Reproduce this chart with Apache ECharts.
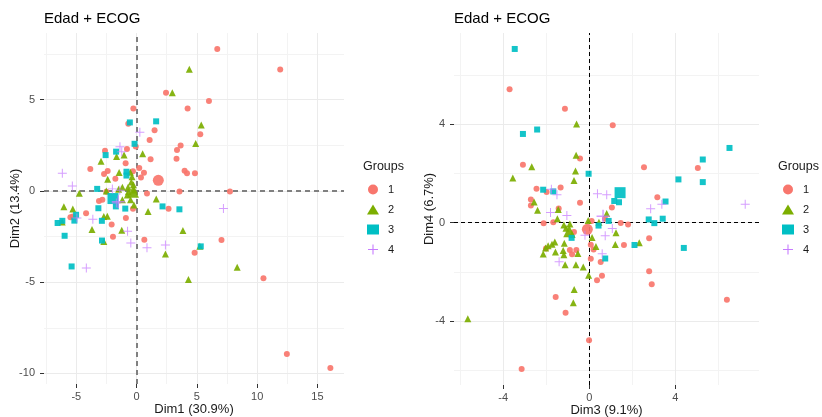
<!DOCTYPE html>
<html style="height: 100%">
<head>
    <meta charset="utf-8">
</head>
<body style="height: 100%; margin: 0; background: #fff">
<div id="container" style="width: 822px; height: 417px;"></div>
<script src="https://cdn.jsdelivr.net/npm/echarts@6/dist/echarts.min.js"></script>
<script>
var groups = ['1', '2', '3', '4'];
var colors = ['#F8766D', '#7CAE00', '#00BFC4', '#C77CFF'];
var plusPath = 'path://M4.45,0H5.55V10H4.45Z M0,4.45H10V5.55H0Z';
var symbols = ['circle', 'triangle', 'rect', plusPath];
var sizes = [6, 7, 6, 9];
var bigSizes = [11, 12, 11, 13];

// Dim1 vs Dim2
var d12_g1 = [[2.44,5.37],[6.00,4.93],[-0.27,4.52],[4.23,4.52],[-0.69,3.68],[1.49,3.32],[5.28,3.10],[1.08,2.79],[3.65,2.48],[-0.07,2.43],[-0.80,2.29],[-2.62,2.20],[3.35,2.24],[3.31,1.76],[-0.91,1.51],[1.16,1.73],[-3.84,1.20],[-2.40,1.09],[-2.70,0.93],[-0.30,1.08],[0.61,1.00],[3.98,1.11],[4.18,0.97],[4.84,0.97],[0.36,0.73],[0.22,1.26],[-1.76,0.66],[0.86,-0.15],[3.56,-0.04],[-3.12,-0.55],[-2.84,-0.49],[-2.51,-0.05],[2.65,-0.98],[-0.30,-0.98],[6.69,7.78],[11.91,6.65],[7.74,-0.04],[7.04,-2.69],[10.52,-4.79],[12.46,-8.94],[16.07,-9.71],[-5.49,-1.44],[-5.29,-1.40],[-4.19,-1.22],[-2.07,-1.84],[-0.89,-1.48],[-1.96,-2.51],[0.64,-2.68],[4.81,-3.39]];
var d12_g2 = [[4.37,6.67],[2.96,5.37],[5.36,3.61],[4.90,2.60],[0.50,2.04],[-2.95,1.62],[-1.04,1.97],[-1.66,1.89],[-1.45,1.01],[-2.40,0.64],[-0.52,1.02],[-0.38,0.78],[-1.18,0.20],[-0.71,0.20],[-1.49,0.09],[-2.51,0.00],[-4.75,-0.13],[-0.77,-0.22],[-1.18,-0.49],[-0.50,-0.49],[-0.22,-0.77],[-6.03,-0.87],[-5.29,-0.99],[-6.17,-1.71],[-2.72,-1.41],[-2.43,-1.39],[0.95,-1.13],[-3.70,-2.11],[-1.23,-2.16],[-2.72,-2.77],[1.63,-0.45],[3.84,-2.17],[5.24,-3.04],[2.39,-3.46],[8.34,-4.18],[4.30,-4.86],[-0.27,0.33],[-0.44,0.49],[-0.19,0.05],[-0.69,-0.05]];
var d12_g3 = [[-0.56,3.75],[1.62,3.81],[-0.17,2.58],[-1.70,2.15],[-2.57,1.96],[-0.84,1.05],[-0.84,0.84],[-3.27,0.11],[-3.17,-0.95],[-1.72,-0.85],[-0.94,-0.97],[2.15,-0.85],[3.55,-1.01],[-6.16,-1.64],[-6.55,-1.76],[-5.02,-1.31],[-5.16,-1.63],[-2.88,-1.64],[-5.97,-2.46],[-2.87,-2.72],[-5.39,-4.14],[5.32,-3.04]];
var d12_g4 = [[0.27,3.21],[-1.38,2.42],[-1.23,2.15],[-6.16,0.97],[-5.33,0.27],[-2.01,0.11],[-1.39,0.03],[-4.95,-1.48],[-3.63,-1.55],[-0.75,-2.21],[-0.48,-2.86],[0.86,-3.11],[2.39,-2.96],[-4.17,-4.22],[7.20,-0.97],[-1.68,-0.66]];
var d12_centers = [[1.80,0.58],[-0.30,-0.05],[-1.96,-0.42],[-1.52,-0.60]];

// Dim3 vs Dim4
var d34_g1 = [[-3.70,5.43],[-1.13,4.64],[1.09,3.96],[-3.08,2.36],[-0.43,2.61],[-2.45,1.38],[-1.98,1.25],[-1.33,1.43],[-2.71,0.94],[-2.71,0.70],[-0.43,0.81],[-1.42,0.58],[1.05,0.62],[2.54,2.25],[5.04,2.22],[3.16,1.03],[-2.12,-0.03],[-1.67,0.02],[0.11,0.07],[-0.71,-0.38],[-0.90,-1.11],[-0.60,-1.11],[-0.80,-1.29],[0.07,-0.90],[0.20,-1.09],[0.07,-1.47],[0.53,-1.60],[0.59,-2.16],[0.36,-2.35],[-1.56,-3.03],[-1.10,-3.67],[-0.01,-4.79],[-3.14,-5.96],[-2.01,-1.05],[0.73,0.16],[1.46,-0.01],[1.80,-0.08],[1.61,-0.91],[2.78,-0.64],[2.78,-1.98],[2.90,-2.51],[6.39,-3.14]];
var d34_g2 = [[-0.59,4.02],[-0.61,2.74],[-2.67,2.27],[-3.55,1.82],[-0.64,2.10],[-0.71,1.72],[-2.56,0.84],[-2.40,0.50],[-1.44,0.53],[-1.48,0.16],[-1.18,-0.10],[-0.90,-0.06],[-0.05,0.09],[0.81,0.37],[0.45,0.02],[1.24,-0.41],[1.21,-0.89],[2.32,-0.82],[-1.16,-0.84],[-1.21,-1.13],[-1.18,-1.31],[-1.60,-0.79],[-1.73,-0.88],[-1.91,-0.94],[-2.03,-1.03],[-2.14,-1.28],[-1.57,-1.20],[-0.53,-1.26],[-0.28,-1.81],[-0.62,-1.71],[-1.12,-1.71],[-0.03,-2.14],[0.31,-0.97],[-0.70,-2.72],[-0.74,-3.26],[-5.64,-3.91],[0.13,-0.61],[-1.08,-0.23],[-0.80,-0.48]];
var d34_g3 = [[-3.46,7.07],[-3.08,3.61],[-2.42,3.79],[-0.03,1.99],[-2.14,1.34],[-1.67,1.27],[1.16,0.88],[1.38,0.83],[3.54,0.86],[6.51,3.04],[5.27,2.57],[4.14,1.76],[5.27,1.65],[0.90,0.07],[0.43,-0.12],[-0.82,-0.62],[0.74,-1.46],[2.10,-0.91],[2.76,0.13],[3.02,-0.02],[3.41,0.16],[4.39,-1.03]];
var d34_g4 = [[-1.76,1.36],[-1.50,1.14],[0.38,1.18],[0.81,1.14],[2.85,0.57],[3.37,0.75],[7.24,0.75],[-1.80,0.41],[-1.04,0.29],[1.07,-0.24],[0.74,-0.53],[-0.20,-0.51],[0.60,-1.27],[-1.40,-1.59]];
var d34_centers = [[-0.09,-0.27],[-0.93,-0.35],[1.43,1.22],[0.64,0.26]];

// ticks and grid lines
var dim1Ticks = [-5, 0, 5, 10, 15];
var dim1Minor = [-7.5, -2.5, 2.5, 7.5, 12.5];
var dim2Ticks = [-10, -5, 0, 5];
var dim2Minor = [-7.5, -2.5, 2.5, 7.5];
var dim3Ticks = [-4, 0, 4];
var dim3Minor = [-6, -2, 2, 6];
var dim4Ticks = [-4, 0, 4];
var dim4Minor = [-6, -2, 2, 6];

var dom = document.getElementById('container');
var myChart = echarts.init(dom, null, { renderer: 'canvas' });

function gridLines(xMaj, xMin, yMaj, yMin, zeroStyle) {
    var major = { color: '#ebebeb', width: 1, type: 'solid' };
    var minor = { color: '#f3f3f3', width: 1, type: 'solid' };
    var out = [];
    xMin.forEach(function (v) { out.push({ xAxis: v, lineStyle: minor }); });
    yMin.forEach(function (v) { out.push({ yAxis: v, lineStyle: minor }); });
    xMaj.forEach(function (v) { out.push({ xAxis: v, lineStyle: major }); });
    yMaj.forEach(function (v) { out.push({ yAxis: v, lineStyle: major }); });
    out.push({ xAxis: 0, lineStyle: zeroStyle });
    out.push({ yAxis: 0, lineStyle: zeroStyle });
    return out;
}

function backSeries(idx, lines) {
    return {
        type: 'scatter', xAxisIndex: idx, yAxisIndex: idx, data: [], z: 1, silent: true,
        markLine: { silent: true, z: 1, symbol: ['none', 'none'], label: { show: false }, animation: false, data: lines }
    };
}

function pointSeries(idx, g, data, big) {
    return {
        name: groups[g], type: 'scatter', xAxisIndex: idx, yAxisIndex: idx,
        data: data, symbol: symbols[g], symbolSize: big ? bigSizes[g] : sizes[g],
        itemStyle: { color: colors[g], opacity: g === 3 ? 0.75 : 0.92 },
        z: 3, animation: false
    };
}

function axisCommon(ticks, name, gap) {
    return {
        type: 'value',
        axisLine: { show: true, onZero: false, lineStyle: { color: 'rgba(0,0,0,0)' } },
        axisTick: { show: true, length: 4, customValues: ticks, lineStyle: { color: '#333', width: 1 } },
        axisLabel: { customValues: ticks, color: '#4d4d4d', fontSize: 11, fontFamily: 'Liberation Sans' },
        splitLine: { show: false },
        name: name, nameLocation: 'middle', nameGap: gap, nameMoveOverlap: false,
        nameTextStyle: { color: '#1a1a1a', fontSize: 13, fontFamily: 'Liberation Sans' }
    };
}

var series = [
    backSeries(0, gridLines(dim1Ticks, dim1Minor, dim2Ticks, dim2Minor, { color: '#808080', width: 2, type: [5, 4] })),
    backSeries(1, gridLines(dim3Ticks, dim3Minor, dim4Ticks, dim4Minor, { color: '#000', width: 1, type: [4, 3] }))
];
[d12_g1, d12_g2, d12_g3, d12_g4].forEach(function (d, g) {
    series.push(pointSeries(0, g, d, false));
    series.push(pointSeries(0, g, [d12_centers[g]], true));
});
[d34_g1, d34_g2, d34_g3, d34_g4].forEach(function (d, g) {
    series.push(pointSeries(1, g, d, false));
    series.push(pointSeries(1, g, [d34_centers[g]], true));
});

var legendData = groups.map(function (g, i) {
    return { name: g, icon: symbols[i], itemStyle: { color: colors[i], opacity: 1 } };
});

function legendAt(left) {
    return {
        left: left, top: 179, orient: 'vertical', itemWidth: 12, itemHeight: 10, itemGap: 9,
        data: legendData, selectedMode: false,
        textStyle: { color: '#1a1a1a', fontSize: 11, fontFamily: 'Liberation Sans', padding: [0, 0, 0, 4] }
    };
}

var titleStyle = { fontSize: 15, fontWeight: 'normal', color: '#000', fontFamily: 'Liberation Sans' };
var groupStyle = { fontSize: 12.5, fontWeight: 'normal', color: '#1a1a1a', fontFamily: 'Liberation Sans' };

var x0 = axisCommon(dim1Ticks, 'Dim1 (30.9%)', 19);
x0.gridIndex = 0; x0.min = -7.68; x0.max = 17.2; x0.axisLabel.margin = 7;
var y0 = axisCommon(dim2Ticks, 'Dim2 (13.4%)', 22);
y0.gridIndex = 0; y0.min = -10.58; y0.max = 8.65; y0.axisLabel.margin = 9;
var x1 = axisCommon(dim3Ticks, 'Dim3 (9.1%)', 19);
x1.gridIndex = 1; x1.min = -6.28; x1.max = 7.88; x1.axisLabel.margin = 7;
var y1 = axisCommon(dim4Ticks, 'Dim4 (6.7%)', 18);
y1.gridIndex = 1; y1.min = -6.61; y1.max = 7.72; y1.axisLabel.margin = 9;

var option = {
    backgroundColor: '#fff',
    animation: false,
    title: [
        { text: 'Edad + ECOG', left: 39, top: 6, textStyle: titleStyle },
        { text: 'Edad + ECOG', left: 449, top: 6, textStyle: titleStyle },
        { text: 'Groups', left: 358, top: 155, textStyle: groupStyle },
        { text: 'Groups', left: 773, top: 155, textStyle: groupStyle }
    ],
    legend: [legendAt(362), legendAt(777)],
    grid: [
        { left: 44, top: 33, width: 300, height: 351, outerBoundsMode: 'none', containLabel: false },
        { left: 454, top: 33, width: 305, height: 352, outerBoundsMode: 'none', containLabel: false }
    ],
    xAxis: [x0, x1],
    yAxis: [y0, y1],
    series: series
};

if (option && typeof option === 'object') {
    myChart.setOption(option);
}
</script>
</body>
</html>
